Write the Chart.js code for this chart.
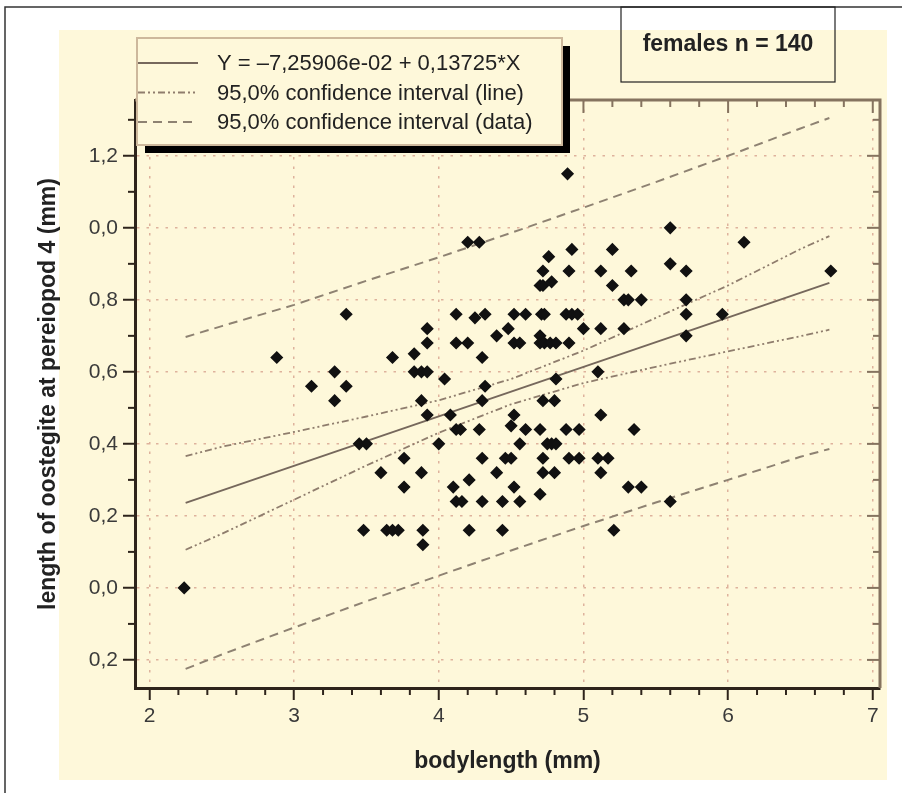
<!DOCTYPE html>
<html>
<head>
<meta charset="utf-8">
<style>
  html, body { margin: 0; padding: 0; background: #fff; }
  #wrap { width: 902px; height: 793px; }
</style>
<script src="https://cdn.jsdelivr.net/npm/chart.js@4.4.1/dist/chart.umd.min.js"></script>
</head>
<body>
<div id="wrap"><canvas id="chart" width="902" height="793"></canvas></div>
<script>
// measured animals: bodylength (mm) and oostegite length (mm)
const bodyLength = [
  2.24, 2.88, 3.12, 3.28, 3.28, 3.36, 3.36, 3.45, 3.50, 3.48,
  3.60, 3.64, 3.68, 3.72, 3.68, 3.76, 3.76, 3.83, 3.83, 3.88,
  3.92, 3.88, 3.88, 3.89, 3.89, 3.92, 3.92, 3.92, 4.00, 4.04,
  4.08, 4.10, 4.12, 4.12, 4.12, 4.15, 4.12, 4.16, 4.20, 4.28,
  4.20, 4.21, 4.21, 4.25, 4.28, 4.30, 4.30, 4.30, 4.30, 4.32,
  4.32, 4.40, 4.40, 4.44, 4.44, 4.46, 4.48, 4.50, 4.50, 4.52,
  4.52, 4.52, 4.52, 4.56, 4.56, 4.56, 4.60, 4.60, 4.70, 4.72,
  4.72, 4.71, 4.73, 4.70, 4.70, 4.73, 4.77, 4.81, 4.72, 4.80,
  4.70, 4.75, 4.78, 4.81, 4.72, 4.72, 4.80, 4.70, 4.76, 4.78,
  4.81, 4.89, 4.88, 4.92, 4.96, 4.90, 4.92, 4.90, 4.88, 4.97,
  4.90, 4.97, 5.00, 5.10, 5.10, 5.12, 5.12, 5.12, 5.12, 5.17,
  5.20, 5.20, 5.21, 5.28, 5.31, 5.28, 5.33, 5.35, 5.31, 5.40,
  5.40, 5.60, 5.60, 5.60, 5.71, 5.71, 5.71, 5.71, 5.96, 6.11,
  6.71
];
const oostegite = [
  0.00, 0.64, 0.56, 0.60, 0.52, 0.76, 0.56, 0.40, 0.40, 0.16,
  0.32, 0.16, 0.16, 0.16, 0.64, 0.36, 0.28, 0.65, 0.60, 0.60,
  0.60, 0.52, 0.32, 0.16, 0.12, 0.72, 0.68, 0.48, 0.40, 0.58,
  0.48, 0.28, 0.76, 0.68, 0.44, 0.44, 0.24, 0.24, 0.96, 0.96,
  0.68, 0.30, 0.16, 0.75, 0.44, 0.64, 0.52, 0.36, 0.24, 0.76,
  0.56, 0.70, 0.32, 0.24, 0.16, 0.36, 0.72, 0.45, 0.36, 0.76,
  0.68, 0.48, 0.28, 0.68, 0.40, 0.24, 0.76, 0.44, 0.84, 0.84,
  0.88, 0.76, 0.76, 0.70, 0.68, 0.68, 0.68, 0.68, 0.52, 0.52,
  0.44, 0.40, 0.40, 0.40, 0.36, 0.32, 0.32, 0.26, 0.92, 0.85,
  0.58, 1.15, 0.76, 0.76, 0.76, 0.88, 0.94, 0.68, 0.44, 0.44,
  0.36, 0.36, 0.72, 0.60, 0.36, 0.88, 0.72, 0.48, 0.32, 0.36,
  0.94, 0.84, 0.16, 0.80, 0.80, 0.72, 0.88, 0.44, 0.28, 0.80,
  0.28, 1.00, 0.90, 0.24, 0.88, 0.80, 0.76, 0.70, 0.76, 0.96,
  0.88
];

// regression line, read at its two ends
const fitX = [2.25, 6.7];
const fitY = [0.236, 0.847];

const bandX = [2.25, 2.5, 3, 3.5, 4, 4.5, 5, 5.5, 6, 6.5, 6.7];
const lineUpper = [0.366, 0.392, 0.433, 0.476, 0.521, 0.580, 0.659, 0.750, 0.840, 0.941, 0.977];
const lineLower = [0.106, 0.150, 0.245, 0.340, 0.431, 0.510, 0.569, 0.614, 0.657, 0.699, 0.717];
const dataUpper = [0.697, 0.727, 0.786, 0.853, 0.918, 0.986, 1.056, 1.127, 1.200, 1.276, 1.305];
const dataLower = [-0.225, -0.185, -0.110, -0.037, 0.034, 0.104, 0.172, 0.237, 0.300, 0.364, 0.386];

const xTicks = [2, 3, 4, 5, 6, 7];
const xTickLabels = ["2", "3", "4", "5", "6", "7"];
const yTicks = [-0.2, 0, 0.2, 0.4, 0.6, 0.8, 1.0, 1.2];
const yTickLabels = ["0,2", "0,0", "0,2", "0,4", "0,6", "0,8", "0,0", "1,2"];

const legendLabels = [
  "Y = \u20137,25906e-02 + 0,13725*X",
  "95,0% confidence interval (line)",
  "95,0% confidence interval (data)"
];
const boxLabel = "females n = 140";

const toXY = (xs, ys) => xs.map((x, i) => ({ x: x, y: ys[i] }));

const FONT = '"Liberation Sans", Arial, Helvetica, sans-serif';
const fitStyle = { color: "#76685c", width: 2, dash: [] };
const ciLineStyle = { color: "#8f7d6d", width: 1.8, dash: [7, 3, 2, 3, 2, 3] };
const ciDataStyle = { color: "#8e8272", width: 2, dash: [9, 6] };

function lineSet(label, data, st, showInLegend) {
  return {
    type: "line",
    label: label,
    inLegend: showInLegend,
    data: data,
    borderColor: st.color,
    borderWidth: st.width,
    borderDash: st.dash,
    pointRadius: 0,
    fill: false,
    tension: 0,
    order: 2
  };
}

const frame = {
  id: "frame",
  beforeDraw(chart) {
    const ctx = chart.ctx;
    ctx.save();
    ctx.fillStyle = "#fff";
    ctx.fillRect(0, 0, chart.width, chart.height);
    ctx.fillStyle = "#fef8da";
    ctx.fillRect(59, 30, 828, 750);
    ctx.strokeStyle = "#333";
    ctx.lineWidth = 1.5;
    ctx.beginPath();
    ctx.moveTo(5, chart.height);
    ctx.lineTo(5, 7);
    ctx.lineTo(chart.width, 7);
    ctx.stroke();
    ctx.restore();
  },
  afterDraw(chart) {
    const ctx = chart.ctx;
    const a = chart.chartArea;
    const sx = chart.scales.x, sy = chart.scales.y;
    ctx.save();

    // top and right border of the plot
    ctx.strokeStyle = "#85735f";
    ctx.lineWidth = 3;
    ctx.beginPath();
    ctx.moveTo(a.left, a.top);
    ctx.lineTo(a.right, a.top);
    ctx.lineTo(a.right, a.bottom);
    ctx.stroke();

    // minor + mirrored ticks
    const tick = (x1, y1, x2, y2, col, w) => {
      ctx.strokeStyle = col;
      ctx.lineWidth = w;
      ctx.beginPath();
      ctx.moveTo(x1, y1);
      ctx.lineTo(x2, y2);
      ctx.stroke();
    };
    for (let i = 0; i <= 25; i++) {
      const v = 2 + i * 0.2;
      const px = sx.getPixelForValue(v);
      const major = i % 5 === 0;
      if (!major) tick(px, a.bottom, px, a.bottom + 7, "#2e241b", 2);
      tick(px, a.top, px, a.top + (major ? 13 : 7), "#85735f", 2);
    }
    for (let i = 0; i <= 15; i++) {
      const v = -0.2 + i * 0.1;
      const py = sy.getPixelForValue(v);
      const major = i % 2 === 0;
      if (!major) tick(a.left - 7, py, a.left, py, "#2e241b", 2);
      tick(a.right - (major ? 13 : 7), py, a.right, py, "#85735f", 2);
    }

    // legend with drop shadow
    const lx = 137, ly = 38, lw = 425, lh = 107;
    ctx.fillStyle = "#000";
    ctx.fillRect(lx + 8, ly + 8, lw, lh);
    ctx.fillStyle = "#fef8da";
    ctx.fillRect(lx, ly, lw, lh);
    ctx.strokeStyle = "#cdb89c";
    ctx.lineWidth = 2;
    ctx.strokeRect(lx, ly, lw, lh);
    const items = chart.data.datasets.filter(d => d.inLegend);
    ctx.font = "22px " + FONT;
    ctx.textBaseline = "middle";
    ctx.textAlign = "left";
    items.forEach((d, i) => {
      const yy = 63 + i * 29.5;
      ctx.strokeStyle = d.borderColor;
      ctx.lineWidth = d.borderWidth;
      ctx.setLineDash(d.borderDash);
      ctx.beginPath();
      ctx.moveTo(lx + 1, yy);
      ctx.lineTo(lx + 61, yy);
      ctx.stroke();
      ctx.setLineDash([]);
      ctx.fillStyle = "#222";
      ctx.fillText(d.label, 217, yy + 1);
    });

    // sample size box
    ctx.strokeStyle = "#222";
    ctx.lineWidth = 1.2;
    ctx.strokeRect(621, 7, 214, 75);
    ctx.fillStyle = "#222";
    ctx.font = "bold 23px " + FONT;
    ctx.textAlign = "center";
    ctx.fillText(boxLabel, 728, 45);
    ctx.restore();
  }
};

const axisColor = "#2e241b";
const gridColor = "rgba(214,160,140,0.8)";

new Chart(document.getElementById("chart"), {
  type: "scatter",
  data: {
    datasets: [
      {
        label: "females",
        data: toXY(bodyLength, oostegite),
        pointStyle: "rectRot",
        pointRadius: 5.5,
        backgroundColor: "#111",
        borderColor: "#111",
        borderWidth: 1.5,
        order: 1
      },
      lineSet(legendLabels[0], toXY(fitX, fitY), fitStyle, true),
      lineSet(legendLabels[1], toXY(bandX, lineUpper), ciLineStyle, true),
      lineSet("", toXY(bandX, lineLower), ciLineStyle, false),
      lineSet(legendLabels[2], toXY(bandX, dataUpper), ciDataStyle, true),
      lineSet("", toXY(bandX, dataLower), ciDataStyle, false)
    ]
  },
  options: {
    responsive: false,
    animation: false,
    layout: { padding: { left: 0, top: 100, right: 22, bottom: 0 } },
    plugins: { legend: { display: false }, tooltip: { enabled: false } },
    scales: {
      x: {
        type: "linear",
        min: 1.9,
        max: 7.05,
        afterBuildTicks: s => { s.ticks = xTicks.map(v => ({ value: v })); },
        afterFit: s => { s.height = 105; },
        ticks: {
          callback: (v, i) => xTickLabels[i],
          color: "#3a3a3a",
          font: { family: FONT, size: 21 },
          padding: 4,
          maxRotation: 0
        },
        grid: { color: gridColor, lineWidth: 1.5, tickLength: 12, tickColor: axisColor, tickWidth: 2 },
        border: { display: true, color: axisColor, width: 3, dash: [2.5, 7] },
        title: {
          display: true,
          text: "bodylength (mm)",
          color: "#222",
          font: { family: FONT, size: 23, weight: "bold" },
          padding: { top: 0, bottom: 18 }
        }
      },
      y: {
        type: "linear",
        min: -0.278,
        max: 1.355,
        afterBuildTicks: s => { s.ticks = yTicks.map(v => ({ value: v })); },
        afterFit: s => { s.width = 135; },
        ticks: {
          callback: (v, i) => yTickLabels[i],
          color: "#3a3a3a",
          font: { family: FONT, size: 21 },
          padding: 5
        },
        grid: { color: gridColor, lineWidth: 1.5, tickLength: 12, tickColor: axisColor, tickWidth: 2 },
        border: { display: true, color: axisColor, width: 3, dash: [2.5, 7] },
        title: {
          display: true,
          text: "length of oostegite at pereiopod 4 (mm)",
          color: "#222",
          font: { family: FONT, size: 23, weight: "bold" },
          padding: { top: 35, bottom: 0 }
        }
      }
    }
  },
  plugins: [frame]
});
</script>
</body>
</html>
